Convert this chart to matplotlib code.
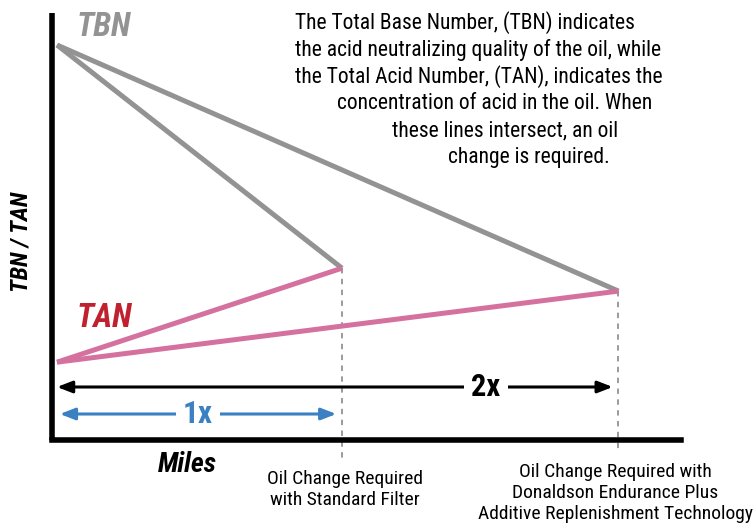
import matplotlib
matplotlib.use("Agg")
import matplotlib.pyplot as plt

plt.rcParams['font.family'] = ['Roboto Condensed', 'Liberation Sans Narrow', 'Roboto', 'DejaVu Sans']

# oil change intervals (multiples of the standard interval)
miles = [0, 1.0, 1.97]
tbn_standard = [10.0, 4.35]
tan_standard = [1.97, 4.35]
tbn_endurance = [10.0, 3.77]
tan_endurance = [1.97, 3.77]

note_lines = [
    "The Total Base Number, (TBN) indicates",
    "the acid neutralizing quality of the oil, while",
    "the Total Acid Number, (TAN), indicates the",
    "concentration of acid in the oil. When",
    "these lines intersect, an oil",
    "change is required.",
]
note_x = [295, 295, 295, 337, 392, 448]

label_standard = "Oil Change Required\nwith Standard Filter"
label_endurance = "Oil Change Required with\nDonaldson Endurance Plus\nAdditive Replenishment Technology"

gray = "#939393"
pink = "#d5719f"
red = "#c1202f"
blue = "#3b80c2"

W, H = 753, 527


def px(x, y):
    return x / W, 1 - y / H


fig = plt.figure(figsize=(W / 100, H / 100), dpi=100)
left, right, top, bottom = 52.5, 681, 13, 440
ax = fig.add_axes([left / W, 1 - bottom / H, (right - left) / W, (bottom - top) / H])

xscale = 285.0
yscale = 39.5
ax.set_xlim(-4.5 / xscale, (right - left - 4.5) / xscale)
ax.set_ylim(0, (bottom - top) / yscale)

for s in ['top', 'right']:
    ax.spines[s].set_visible(False)
for s in ['left', 'bottom']:
    ax.spines[s].set_linewidth(4)
    ax.spines[s].set_color('black')
ax.spines['left'].set_capstyle('butt')
ax.set_xticks([])
ax.set_yticks([])

# dashed guides at the intersections
ax.plot([miles[1], miles[1]], [tbn_standard[1], -0.5], ls=(0, (3, 3)), color=gray, lw=1.3, clip_on=False)
ax.plot([miles[2], miles[2]], [tbn_endurance[1], -0.3], ls=(0, (3, 3)), color=gray, lw=1.3, clip_on=False)

ax.plot(miles[::2], tbn_endurance, color=gray, lw=3.6, solid_capstyle='butt')
ax.plot(miles[:2], tbn_standard, color=gray, lw=3.6, solid_capstyle='butt')
ax.plot(miles[::2], tan_endurance, color=pink, lw=3.6, solid_capstyle='butt')
ax.plot(miles[:2], tan_standard, color=pink, lw=3.6, solid_capstyle='butt')

# interval arrows
y2 = (bottom - 387) / yscale
ax.annotate("", xy=(1.95, y2), xytext=(0.0, y2),
            arrowprops=dict(arrowstyle='<|-|>,head_length=0.9,head_width=0.35', color='black',
                            lw=2.2, shrinkA=0, shrinkB=0))
ax.text(1.505, y2, "2x", ha='center', va='center', fontsize=22, fontweight='bold',
        bbox=dict(facecolor='white', edgecolor='none', pad=5))

y1 = (bottom - 414) / yscale
ax.annotate("", xy=(0.98, y1), xytext=(0.01, y1),
            arrowprops=dict(arrowstyle='<|-|>,head_length=0.9,head_width=0.35', color=blue,
                            lw=2.2, shrinkA=0, shrinkB=0))
ax.text(0.495, y1, "1x", ha='center', va='center', fontsize=22.5, fontweight='bold', color=blue,
        bbox=dict(facecolor='white', edgecolor='none', pad=5))

# labels
fig.text(*px(77, 36), "TBN", color=gray, fontsize=23.5, fontweight='bold', style='italic',
         ha='left', va='baseline')
fig.text(*px(77, 327), "TAN", color=red, fontsize=23.5, fontweight='bold', style='italic',
         ha='left', va='baseline')
fig.text(*px(21, 242), "TBN / TAN", fontsize=17.5, fontweight='bold', style='italic',
         rotation=90, ha='center', va='center')
fig.text(*px(187, 472), "Miles", fontsize=20, fontweight='bold', style='italic',
         ha='center', va='baseline')

for i, line in enumerate(note_lines):
    fig.text(*px(note_x[i], 29 + i * 26.8), line, fontsize=15.5, ha='left', va='baseline')

fig.text(*px(345, 470), label_standard, fontsize=14, ha='center', va='top', linespacing=1.22)
fig.text(*px(615, 463), label_endurance, fontsize=14, ha='center', va='top', linespacing=1.22)

fig.savefig("out.png", dpi=100)
